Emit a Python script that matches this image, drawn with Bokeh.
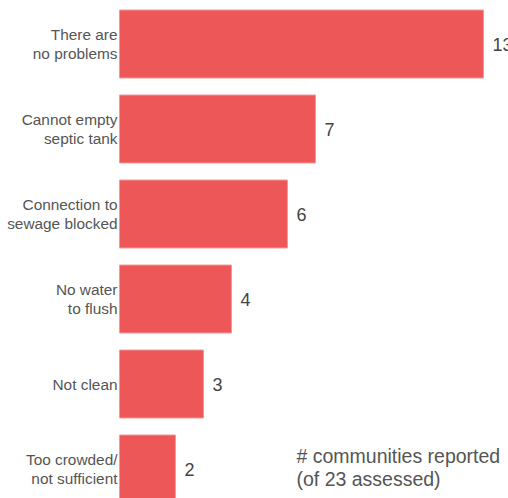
from bokeh.plotting import figure
from bokeh.models import Range1d, ColumnDataSource
from bokeh.core.properties import value
from bokeh.embed import file_html
from bokeh.resources import INLINE

categories = ["There are\nno problems", "Cannot empty\nseptic tank", "Connection to\nsewage blocked",
              "No water\nto flush", "Not clean", "Too crowded/\nnot sufficient"]
counts = [13, 7, 6, 4, 3, 2]
note_lines = ["# communities reported", "(of 23 assessed)"]

pos = list(range(len(categories)))
src = ColumnDataSource(dict(y=pos, v=counts, cat=categories, lab=[str(c) for c in counts]))

W, H = 508, 498
px_per_unit_x = 28.0
x0 = -119.0 / px_per_unit_x
px_per_unit_y = 85.0
y_top = -43.5 / px_per_unit_y

p = figure(width=W, height=H, output_backend="svg", toolbar_location=None,
           x_range=Range1d(x0, x0 + W / px_per_unit_x),
           y_range=Range1d(y_top + H / px_per_unit_y, y_top),
           min_border=0, background_fill_color="white", border_fill_color="white")
p.axis.visible = False
p.grid.visible = False
p.outline_line_color = None

p.hbar(y="y", left=0, right="v", height=0.8, source=src,
       fill_color="#EE5758", line_color="#F39A9A", line_width=1)

p.text(x=0, y="y", text="cat", source=src, x_offset=-2, text_align="right",
       text_baseline="middle", text_font=value("Liberation Sans"), text_font_size="15.4px",
       text_color="#555555", text_line_height=1.17)

p.text(x="v", y="y", text="lab", source=src, x_offset=9, text_align="left",
       text_baseline="middle", text_font=value("Liberation Sans"), text_font_size="18px",
       text_color="#444444")

p.text(x=[6.32, 6.32], y=[4.85, 5.115], text=note_lines, text_align="left",
       text_baseline="alphabetic", text_font=value("Liberation Sans"), text_font_size="19.5px",
       text_color="#555555")

open("out.html", "w").write(file_html(p, INLINE))
